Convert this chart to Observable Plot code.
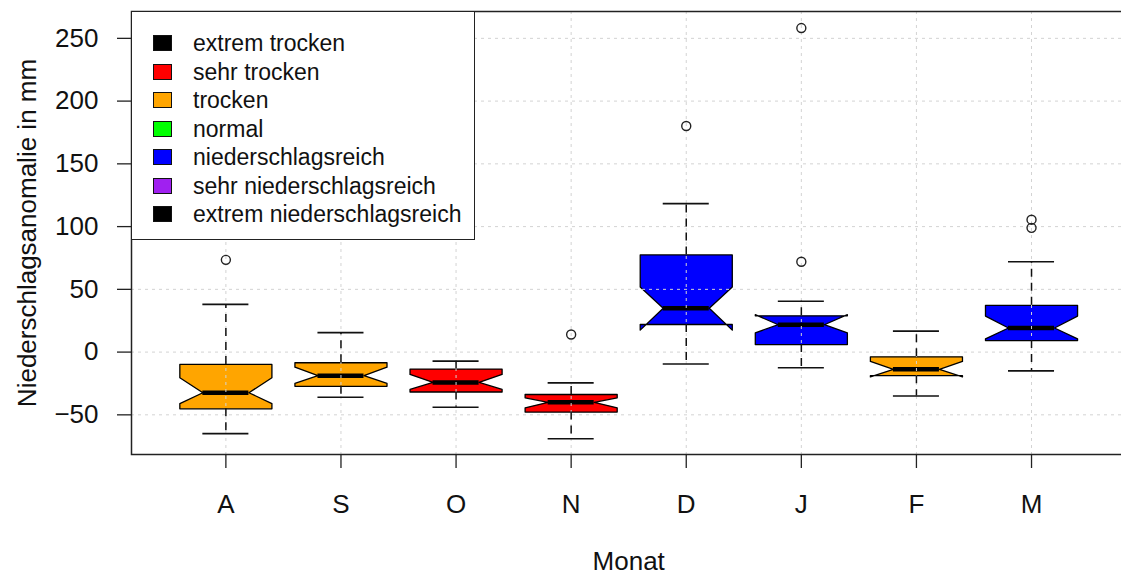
<!DOCTYPE html>
<html>
<head>
<meta charset="utf-8">
<script src="https://cdn.jsdelivr.net/npm/d3@7"></script>
<script src="https://cdn.jsdelivr.net/npm/@observablehq/plot@0.6"></script>
<style>
  html, body { margin: 0; padding: 0; background: #fff; overflow: hidden; }
  #wrap { position: relative; width: 1121px; height: 579px; font-family: "Liberation Sans", Arial, sans-serif; }
  #legend { position: absolute; left: 131px; top: 11px; width: 344px; height: 229px; border: 1.3px solid #222; background: #fff; box-sizing: border-box; }
  .sw { position: absolute; left: 21px; width: 19px; height: 16px; border: 1px solid #111; box-sizing: border-box; }
  .lt { position: absolute; left: 61px; font-size: 23px; color: #111; white-space: nowrap; line-height: 28px; }
</style>
</head>
<body>
<div id="wrap"><div id="legend"></div></div>
<script>
// ---- data ----
const months = ["A", "S", "O", "N", "D", "J", "F", "M"];
const categories = ["trocken", "trocken", "sehr trocken", "sehr trocken", "niederschlagsreich", "niederschlagsreich", "trocken", "niederschlagsreich"];
const whiskerLow  = [-65, -36, -44, -69, -9.5, -12.5, -35, -15];
const q1          = [-45.2, -27.3, -31.8, -47.8, 22, 6, -18.8, 9.2];
const median      = [-32.4, -18.8, -24.2, -40, 35, 21.8, -13.7, 19.2];
const q3          = [-9.8, -8.5, -13.5, -33.8, 77.4, 28.9, -3.8, 37.3];
const whiskerHigh = [38, 15.5, -7.2, -24.5, 118.3, 40.5, 16.7, 72];
const notchLow    = [-41, -25, -29.8, -44.4, 17.5, 15.4, -19.8, 10.6];
const notchHigh   = [-20.5, -12, -17.8, -36.4, 51.8, 29.8, -7.4, 28.7];
const outlierMonth = ["A", "N", "D", "J", "J", "M", "M"];
const outlierValue = [73.5, 14, 180.2, 72, 258.2, 99, 105.5];
const legendLabels = ["extrem trocken", "sehr trocken", "trocken", "normal", "niederschlagsreich", "sehr niederschlagsreich", "extrem niederschlagsreich"];
const legendColors = ["#000000", "#FF0000", "#FFA500", "#00FF00", "#0000FF", "#A020F0", "#000000"];
const yTicks = [-50, 0, 50, 100, 150, 200, 250];

// ---- derived tables ----
const colorOf = Object.fromEntries(legendLabels.map((l, i) => [l, legendColors[i]]));
const W = 0.4, NF = 0.5, CAP = 0.2;
const boxes = months.map((m, i) => ({
  m, x: i + 1, color: colorOf[categories[i]],
  lo: whiskerLow[i], q1: q1[i], med: median[i], q3: q3[i], hi: whiskerHigh[i],
  c1: notchLow[i], c2: notchHigh[i]
}));
const poly = [];
for (const b of boxes) {
  const pts = [
    [b.x - W, b.q1], [b.x + W, b.q1], [b.x + W, b.c1], [b.x + W * NF, b.med],
    [b.x + W, b.c2], [b.x + W, b.q3], [b.x - W, b.q3], [b.x - W, b.c2],
    [b.x - W * NF, b.med], [b.x - W, b.c1], [b.x - W, b.q1]
  ];
  for (const [x, y] of pts) poly.push({m: b.m, x, y, color: b.color});
}
const outliers = outlierMonth.map((m, i) => ({x: months.indexOf(m) + 1, y: outlierValue[i]}));

const plot = Plot.plot({
  width: 1121,
  height: 579,
  marginLeft: 131,
  marginRight: -4.4,
  marginTop: 11,
  marginBottom: 125,
  style: {fontFamily: "'Liberation Sans', Arial, sans-serif", fontSize: "26px", color: "#111", background: "#fff"},
  x: {type: "linear", domain: [0.18, 8.82]},
  y: {domain: [-81.6, 271.4]},
  marks: [
    // notched boxes
    Plot.line(poly, {x: "x", y: "y", z: "m", fill: "color", stroke: "#000", strokeWidth: 1.3, curve: "linear"}),
    // medians
    Plot.ruleY(boxes, {x1: d => d.x - W * NF, x2: d => d.x + W * NF, y: "med", stroke: "#000", strokeWidth: 4.5}),
    // grid (drawn over boxes)
    Plot.gridY(yTicks, {stroke: "#d3d3d3", strokeOpacity: 1, strokeDasharray: "3,4", strokeWidth: 1}),
    Plot.gridX(months.map((m, i) => i + 1), {stroke: "#d3d3d3", strokeOpacity: 1, strokeDasharray: "3,4", strokeWidth: 1}),
    // whiskers
    Plot.ruleX(boxes, {x: "x", y1: "q3", y2: "hi", stroke: "#111", strokeWidth: 1.5, strokeDasharray: "8,6"}),
    Plot.ruleX(boxes, {x: "x", y1: "q1", y2: "lo", stroke: "#111", strokeWidth: 1.5, strokeDasharray: "8,6"}),
    Plot.ruleY(boxes, {x1: d => d.x - CAP, x2: d => d.x + CAP, y: "hi", stroke: "#111", strokeWidth: 1.6}),
    Plot.ruleY(boxes, {x1: d => d.x - CAP, x2: d => d.x + CAP, y: "lo", stroke: "#111", strokeWidth: 1.6}),
    // outliers
    Plot.dot(outliers, {x: "x", y: "y", r: 4.5, stroke: "#222", strokeWidth: 1.4, fill: "none"}),
    // axes
    Plot.axisY(yTicks, {tickSize: 14, tickPadding: 19, fontSize: 26, stroke: "#222", strokeWidth: 1.3, label: null}),
    Plot.axisX(months.map((m, i) => i + 1), {tickSize: 14, tickPadding: 26, fontSize: 26, tickFormat: d => months[d - 1], stroke: "#222", strokeWidth: 1.3, label: null}),
    Plot.frame({stroke: "#222", strokeWidth: 1.5}),
    // axis titles
    Plot.text(["Niederschlagsanomalie in mm"], {frameAnchor: "left", textAnchor: "middle", dx: -104, rotate: -90, fontSize: 26, fill: "#111"}),
    Plot.text(["Monat"], {frameAnchor: "bottom", lineAnchor: "middle", dy: 107, fontSize: 26, fill: "#111"})
  ]
});
document.getElementById("wrap").prepend(plot);

// legend (HTML overlay, inside the plot area at top-left)
const leg = document.getElementById("legend");
legendLabels.forEach((l, i) => {
  const center = 31 + i * 28.5; // relative to legend top
  const sw = document.createElement("div");
  sw.className = "sw";
  sw.style.top = (center - 8) + "px";
  sw.style.background = legendColors[i];
  leg.appendChild(sw);
  const t = document.createElement("div");
  t.className = "lt";
  t.style.top = (center - 14) + "px";
  t.textContent = l;
  leg.appendChild(t);
});
</script>
</body>
</html>
